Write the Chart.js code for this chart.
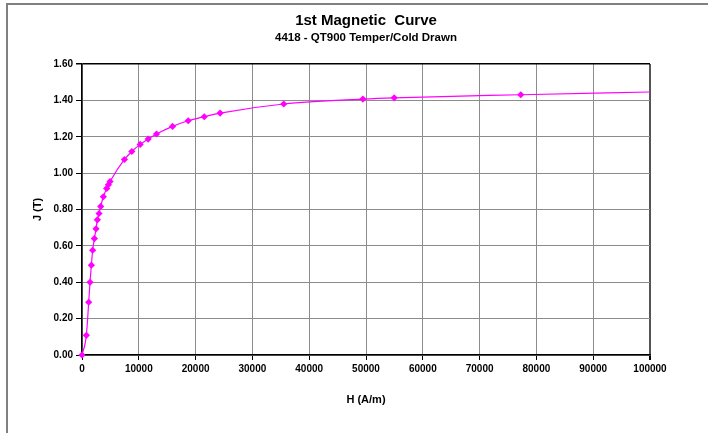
<!DOCTYPE html>
<html>
<head>
<meta charset="utf-8">
<script src="https://cdn.jsdelivr.net/npm/chart.js@4.4.1/dist/chart.umd.min.js"></script>
<style>
  html, body { margin: 0; padding: 0; background: #fff; }
  #wrap { position: relative; width: 708px; height: 433px; overflow: hidden; }
  #frame { position: absolute; left: 6px; top: 3px; width: 760px; height: 500px;
    border-top: 2px solid #808080; border-left: 2px solid #808080; }
  #c { position: absolute; left: 0; top: 0; }
</style>
</head>
<body>
<div id="wrap">
  <div id="frame"></div>
  <canvas id="c" width="708" height="433"></canvas>
</div>
<script>
// ── data ──
const titleText = '1st Magnetic  Curve';
const subtitleText = '4418 - QT900 Temper/Cold Drawn';
const xTitle = 'H (A/m)';
const yTitle = 'J (T)';

const hValues = [0, 765, 1180, 1410, 1650, 1880, 2180, 2470, 2710, 3000, 3290, 3760, 4350, 4650, 4940,
  7470, 8770, 10240, 11650, 13120, 15940, 18700, 21520, 24320, 35520, 49450, 54970, 77250, 100000];
const jValues = [0, 0.108, 0.29, 0.40, 0.494, 0.576, 0.640, 0.694, 0.743, 0.778, 0.817, 0.870, 0.916, 0.936, 0.954,
  1.075, 1.119, 1.158, 1.187, 1.215, 1.257, 1.288, 1.310, 1.330, 1.380, 1.407, 1.414, 1.431, 1.446];

const FONT = "'Liberation Sans', Arial, sans-serif";
const MAGENTA = '#FF00FF';
const GRID = '#8C8C8C';

// titles centred over the plot area
const titlePlugin = {
  id: 'plotTitles',
  afterDraw(chart) {
    const { ctx, chartArea } = chart;
    const cx = (chartArea.left + chartArea.right) / 2;
    ctx.save();
    ctx.fillStyle = '#000';
    ctx.textAlign = 'center';
    ctx.textBaseline = 'middle';
    ctx.font = `bold 15px ${FONT}`;
    ctx.fillText(titleText, cx, 21);
    ctx.font = `bold 11.5px ${FONT}`;
    ctx.fillText(subtitleText, cx, 38);
    ctx.restore();
  }
};

const points = hValues.map((h, i) => ({ x: h, y: jValues[i] }));
const last = points.length - 1;

new Chart(document.getElementById('c'), {
  type: 'line',
  data: {
    datasets: [{
      data: points,
      borderColor: MAGENTA,
      backgroundColor: MAGENTA,
      borderWidth: 1.2,
      cubicInterpolationMode: 'monotone',
      pointStyle: 'rectRot',
      pointRadius: ctx => ctx.dataIndex === last ? 0 : 3.6,
      pointBorderWidth: 0,
      pointBackgroundColor: MAGENTA,
      clip: false,
    }]
  },
  options: {
    responsive: false,
    animation: false,
    layout: { padding: { left: 27, right: 58, top: 64, bottom: 0 } },
    plugins: { legend: { display: false }, tooltip: { enabled: false }, title: { display: false } },
    scales: {
      x: {
        type: 'linear',
        min: 0, max: 100000,
        afterFit: s => { s.height = 78; },
        ticks: {
          stepSize: 10000,
          color: '#000',
          padding: 3,
          maxRotation: 0,
          font: { family: FONT, size: 10, weight: 'bold' },
          callback: v => String(v)
        },
        grid: {
          color: ctx => ctx.tick && ctx.tick.value === 100000 ? '#555' : GRID,
          lineWidth: ctx => ctx.tick && ctx.tick.value === 100000 ? 2 : 1,
          tickColor: '#000',
          tickLength: 5,
        },
        border: { color: '#000', width: 1.5 },
        title: {
          display: true, text: xTitle, color: '#000',
          font: { family: FONT, size: 11, weight: 'bold' },
          padding: { top: 0, bottom: 26 }
        }
      },
      y: {
        min: 0, max: 1.6,
        afterFit: s => { s.width = 55; },
        ticks: {
          stepSize: 0.2,
          color: '#000',
          padding: 3,
          font: { family: FONT, size: 10, weight: 'bold' },
          callback: v => Number(v).toFixed(2)
        },
        grid: {
          color: ctx => ctx.tick && Math.abs(ctx.tick.value - 1.6) < 1e-6 ? '#000' : GRID,
          lineWidth: ctx => ctx.tick && Math.abs(ctx.tick.value - 1.6) < 1e-6 ? 1.5 : 1,
          tickColor: '#000',
          tickLength: 6,
        },
        border: { color: '#000', width: 1.5 },
        title: {
          display: true, text: yTitle, color: '#000',
          font: { family: FONT, size: 11, weight: 'bold' },
          padding: { top: 4, bottom: 4 }
        }
      }
    }
  },
  plugins: [titlePlugin]
});
</script>
</body>
</html>
